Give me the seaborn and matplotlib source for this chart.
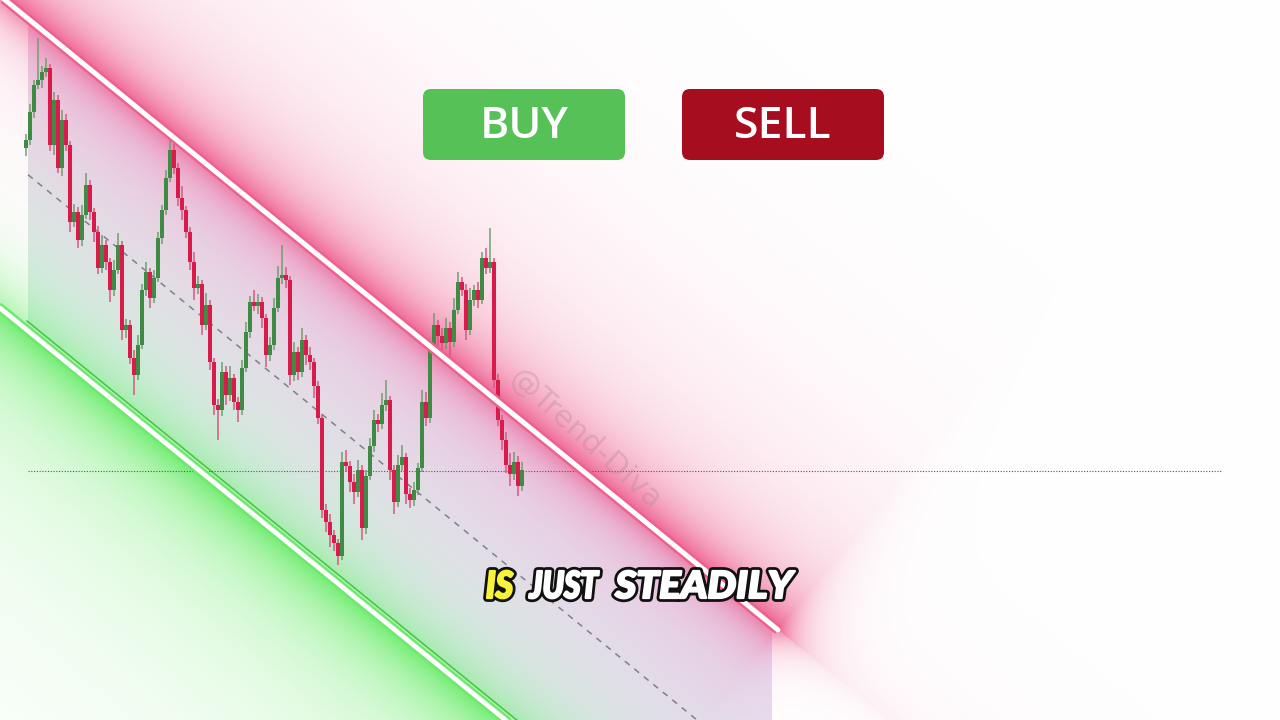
import numpy as np
import pandas as pd
import matplotlib
matplotlib.use("Agg")
import matplotlib.pyplot as plt
import seaborn as sns
from matplotlib.patches import FancyBboxPatch, PathPatch
from matplotlib.textpath import TextPath
from matplotlib.font_manager import FontProperties
from matplotlib.transforms import Affine2D

# candle data (price in points, one candle per index)
first_open = 572
closes = [580, 608, 635, 640, 648, 652, 575, 620, 552, 600,
          575, 498, 508, 480, 505, 535, 508, 488, 452, 475,
          458, 430, 450, 475, 390, 395, 362, 345, 375, 430,
          448, 422, 442, 482, 510, 542, 570, 552, 522, 510,
          488, 458, 432, 436, 395, 415, 358, 315, 310, 348,
          325, 342, 318, 310, 352, 388, 418, 414, 418, 402,
          365, 375, 412, 442, 445, 440, 345, 368, 348, 380,
          365, 358, 334, 302, 210, 198, 185, 177, 164, 258,
          254, 238, 228, 250, 192, 244, 274, 300, 296, 315,
          320, 250, 218, 255, 263, 226, 220, 230, 252, 318,
          302, 375, 395, 384, 377, 392, 378, 410, 438, 430,
          390, 420, 430, 420, 462, 452, 458, 340, 300, 280,
          255, 246, 258, 234, 250]
upper_wick = [6, 8, 5, 42, 6, 10, 4, 8, 5, 10,
              6, 4, 8, 5, 10, 12, 5, 4, 6, 10,
              5, 4, 10, 12, 4, 6, 5, 8, 10, 6,
              10, 4, 8, 6, 5, 8, 10, 6, 5, 12,
              4, 5, 10, 8, 4, 12, 5, 4, 6, 10,
              6, 12, 4, 5, 8, 10, 6, 12, 8, 5,
              4, 8, 10, 12, 30, 8, 4, 10, 5, 12,
              5, 8, 4, 5, 4, 6, 8, 5, 4, 10,
              12, 5, 8, 10, 5, 6, 8, 10, 6, 12,
              20, 4, 5, 10, 12, 4, 6, 8, 5, 12,
              10, 6, 12, 5, 8, 10, 6, 12, 10, 5,
              6, 12, 5, 8, 6, 10, 34, 4, 6, 5,
              8, 12, 10, 6, 8]
lower_wick = [8, 5, 6, 4, 8, 5, 6, 10, 5, 8,
              6, 10, 5, 8, 6, 4, 8, 10, 6, 5,
              8, 12, 6, 4, 10, 8, 6, 20, 5, 4,
              6, 10, 5, 4, 6, 5, 4, 6, 8, 10,
              6, 8, 12, 6, 10, 5, 8, 10, 30, 6,
              10, 6, 8, 12, 5, 4, 6, 5, 8, 10,
              12, 6, 5, 4, 6, 8, 10, 6, 8, 5,
              10, 8, 12, 6, 8, 10, 12, 8, 9, 4,
              6, 10, 12, 5, 12, 6, 4, 6, 8, 5,
              6, 10, 12, 5, 6, 10, 8, 6, 5, 4,
              8, 5, 4, 10, 12, 6, 20, 5, 4, 6,
              10, 5, 6, 8, 4, 6, 5, 8, 6, 10,
              8, 12, 6, 10, 5]

# descending channel: price = intercept + slope * index
chan_slope = -3.26
chan_upper = 702.96
chan_lower = 390.8
chan_edge = 399.8
chan_end = 188
level_price = 249

buttons = ["BUY", "SELL"]
button_colors = ["#55c157", "#a60e1f"]
caption_words = ["IS", "JUST", "STEADILY"]
caption_colors = ["#f7f23a", "white", "white"]
watermark = "@Trend-Diva"

sns.set_theme(style="white")

fig = plt.figure(figsize=(12.8, 7.2), dpi=100)
ax = fig.add_axes([0, 0, 1, 1])
x_lo, x_hi = -6.5, 313.5
ax.set_xlim(x_lo, x_hi)
ax.set_ylim(0, 720)
ax.axis("off")

# ---- glowing background built from the channel definition
gx = np.linspace(x_lo, x_hi, 1280)
gy = np.linspace(720, 0, 720)
X, P = np.meshgrid(gx, gy)
m = -chan_slope / 4
k = np.hypot(1, m)
d_up = (chan_upper + chan_slope * X - P) / k     # >0 below upper line
d_lo = (P - (chan_lower + chan_slope * X)) / k   # >0 above lower line
d_edge = (P - (chan_edge + chan_slope * X)) / k
# position along the upper line, to fade the glow past its end
along = (4 * X + m * (720 - P)) / k
along_end = (4 * chan_end + m * (720 - (chan_upper + chan_slope * chan_end))) / k
beyond = np.clip(along - along_end, 0, None)

img = np.ones((720, 1280, 3))
inside = (d_up > 0) & (d_edge > 0) & (X >= 0.5) & (X <= chan_end - 1.5)
t = np.clip(d_up / (d_up + np.clip(d_edge, 1e-3, None)), 0, 1)
u = np.clip((X - 0.5) / 186, 0, 1)
top_c = np.array([0.94, 0.82, 0.92])
bot_c = np.array([0.84, 0.95, 0.90])
lav_c = np.array([0.90, 0.87, 0.95])
base = top_c * (1 - t[..., None]) + bot_c * t[..., None]
base = base * (1 - 0.5 * u[..., None]) + lav_c * 0.5 * u[..., None]
img[inside] = base[inside]

pink = np.array([0.92, 0.24, 0.47])
green = np.array([0.36, 0.92, 0.36])
a_p = np.where(d_up < 0,
               0.55 * np.exp(d_up / 28) + 0.30 * np.exp(d_up / 110),
               0.5 * np.exp(-d_up / 18) + 0.15 * np.exp(-d_up / 70))
a_p = a_p * (0.08 + 0.92 * np.exp(-beyond / 25))
a_g = np.where(d_lo < 0,
               0.55 * np.exp(d_lo / 30) + 0.38 * np.exp(d_lo / 140),
               0.5 * np.exp(-d_lo / 30))
img = img * (1 - a_p[..., None]) + pink * a_p[..., None]
img = img * (1 - a_g[..., None]) + green * a_g[..., None]
ax.imshow(np.clip(img, 0, 1), extent=[x_lo, x_hi, 0, 720], aspect="auto",
          zorder=0, interpolation="bilinear")

# ---- channel lines
up_x = np.array([x_lo, chan_end])
lo_x = np.array([x_lo, 126])
mid_x = np.array([0.5, 171])
edge_x = np.array([0.25, 126])
lines = pd.DataFrame({
    "idx": np.concatenate([up_x, lo_x, mid_x, edge_x]),
    "price": np.concatenate([chan_upper + chan_slope * up_x,
                             chan_lower + chan_slope * lo_x,
                             (chan_upper + chan_lower) / 2 + chan_slope * mid_x,
                             chan_edge + chan_slope * edge_x]),
    "line": ["upper"] * 2 + ["lower"] * 2 + ["mid"] * 2 + ["edge"] * 2,
})
up = lines[lines.line == "upper"]
lo = lines[lines.line == "lower"]
sns.lineplot(data=up, x="idx", y="price", color="#ef5f8c", lw=7, ax=ax,
             zorder=5, solid_capstyle="butt")
sns.lineplot(data=up, x="idx", y="price", color="white", lw=3.6, ax=ax, zorder=6)
sns.lineplot(data=lines[lines.line == "edge"], x="idx", y="price",
             color="#46c846", lw=1.2, ax=ax, zorder=2)
sns.lineplot(data=lo, x="idx", y="price", color="#6fe86f", lw=7, ax=ax, zorder=5)
sns.lineplot(data=lo, x="idx", y="price", color="white", lw=3.4, ax=ax, zorder=6)
sns.lineplot(data=lines[lines.line == "mid"], x="idx", y="price",
             color="#808088", lw=1.1, ax=ax, zorder=2, dashes=False,
             linestyle=(0, (4, 4)))
ax.hlines(level_price, 0.5, 299, colors="#555555", lw=0.8,
          linestyles=(0, (1, 1.5)), zorder=2)

# ---- candles
c = np.array(closes, dtype=float)
o = np.concatenate([[first_open], c[:-1]])
idx = np.arange(len(c))
hi = np.maximum(o, c) + np.array(upper_wick)
lo_p = np.minimum(o, c) - np.array(lower_wick)
bull = c >= o
body_col = np.where(bull, "#3f8a45", "#d81b4a")
wick_col = np.where(bull, "#6f9f72", "#d8587e")
ax.vlines(idx, lo_p, hi, colors=wick_col, lw=1.1, zorder=3)
ax.bar(idx, np.maximum(np.abs(c - o), 1.5), bottom=np.minimum(o, c),
       width=0.85, color=body_col, linewidth=0, zorder=4)

# ---- watermark
fig.text(585 / 1280, 1 - 440 / 720, watermark, rotation=-42, fontsize=22,
         color="#b08a9c", alpha=0.35, ha="center", va="center",
         rotation_mode="anchor", family="DejaVu Sans")

# ---- buttons (inches on figure)
for label, col, x0 in zip(buttons, button_colors, [4.23, 6.82]):
    fig.patches.append(FancyBboxPatch((x0, 5.60), 2.02, 0.71,
                                      boxstyle="round,pad=0,rounding_size=0.08",
                                      transform=fig.dpi_scale_trans,
                                      fc=col, ec="none", zorder=10))
    fig.text(x0 + 1.01, 5.93, label, transform=fig.dpi_scale_trans,
             ha="center", va="center", color="white", fontsize=32,
             fontweight="semibold", family="Open Sans", zorder=11)

# ---- caption, comic style with outline
fp = FontProperties(family="Lato", weight="black", style="italic")
cap_h = TextPath((0, 0), "H", size=100, prop=fp).get_extents().height
boxes = [(487, 513), (529, 599), (615, 795)]
for word, col, (x0, x1) in zip(caption_words, caption_colors, boxes):
    tp = TextPath((0, 0), word, size=100, prop=fp)
    ext = tp.get_extents()
    sx = (x1 - x0) / ext.width
    sy = 27 / cap_h
    tr = (Affine2D().translate(-ext.x0, 0).scale(sx, sy)
          .translate(x0, 720 - 598).scale(0.01) + fig.dpi_scale_trans)
    fig.add_artist(PathPatch(tp, transform=tr, fc="none", ec="#111111",
                             lw=5.6, joinstyle="round", zorder=12))
    fig.add_artist(PathPatch(tp, transform=tr, fc=col, ec=col, lw=1.6,
                             joinstyle="round", zorder=13))

fig.savefig("out.png", dpi=100)
